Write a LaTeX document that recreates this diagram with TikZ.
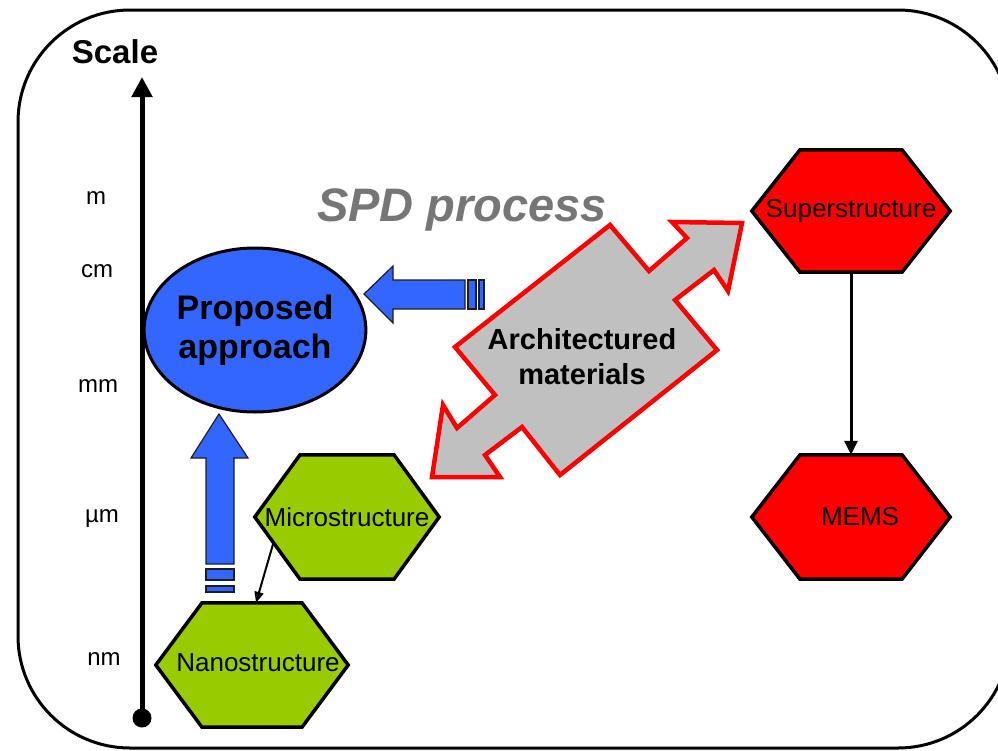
\documentclass[tikz,border=0pt]{standalone}
\usepackage{fontspec}
\setmainfont{Liberation Sans}
\usetikzlibrary{shapes.geometric,arrows.meta,backgrounds,calc}
\definecolor{bluefill}{RGB}{51,102,255}
\definecolor{greenfill}{RGB}{153,204,0}
\definecolor{grayfill}{RGB}{192,192,192}
\definecolor{spdgray}{RGB}{118,118,118}
\definecolor{redfill}{RGB}{255,0,0}
\definecolor{edgedark}{RGB}{30,30,30}
\newcommand\hexdraw[3]{\draw[#3] (#1.west) -- ([xshift=-#2pt]#1.north) -- ([xshift=#2pt]#1.north) -- (#1.east) -- ([xshift=#2pt]#1.south) -- ([xshift=-#2pt]#1.south) -- cycle;}
\tikzset{
  hexnode/.style={inner sep=0pt, font=\fontsize{26}{31}\selectfont},
  hexred/.style={fill=redfill, draw=black, line width=3.5pt},
  hexgreen/.style={fill=greenfill, draw=black, line width=3.5pt},
  lab/.style={inner sep=0pt, font=\fontsize{24}{28}\selectfont},
  bluearrow/.style={fill=bluefill, draw=edgedark, line width=1.2pt, line join=miter},
  conn/.style={draw=black, line width=3pt, -{Triangle[length=14pt,width=13pt]}},
  thinconn/.style={draw=black, line width=2pt, -{Triangle[length=11pt,width=9pt]}},
}
\begin{document}
\begin{tikzpicture}[x=1pt,y=-1pt]
\useasboundingbox (0,0) rectangle (998,750);
% frame
\draw[line width=3pt, rounded corners=112pt] (18,10) rectangle (1010,748);

% scale axis
\node[inner sep=0pt, font=\bfseries\fontsize{33}{39}\selectfont] (scale) at (115,52) {Scale};
\coordinate (axbot) at (142,718);
\coordinate (axtop) at (142,77);
\draw[line width=5pt, -{Triangle[length=20pt,width=20pt]}] (axbot) -- (axtop);
\fill (axbot) circle (9.5pt);
\node[lab] (lm) at (96,198) {m};
\node[lab] (lcm) at (97,271) {cm};
\node[lab] (lmm) at (98,386) {mm};
\node[lab] (lum) at (102,519) {µm};
\node[lab] (lnm) at (104,659) {nm};

% SPD process
\node[inner sep=0pt, text=spdgray, font=\bfseries\itshape\fontsize{47}{56}\selectfont] (spd) at (462,210) {SPD process};

% blue up arrow
\draw[bluearrow] (219,414) -- (248,458) -- (234,458) -- (234,564) -- (206,564) -- (206,458) -- (191,458) -- cycle;
\draw[bluearrow] (206,569) rectangle (234,580);
\draw[bluearrow] (206,586) rectangle (234,592);

% blue left arrow
\draw[bluearrow] (364,294) -- (393,266) -- (393,280) -- (465,280) -- (465,309) -- (393,309) -- (393,323) -- cycle;
\draw[bluearrow] (468,280) rectangle (476,309);
\draw[bluearrow] (479,280) rectangle (484,309);

% gray double arrow
\draw[fill=grayfill, draw=redfill, line width=4.5pt, line join=miter]
  (742,223) -- (728,291) -- (714,270) -- (675,300) -- (717,350) -- (560,475)
  -- (522,427) -- (485,455) -- (500,477) -- (432,477) -- (443,405) -- (457,428)
  -- (495,395) -- (455,347) -- (610,225) -- (649,271) -- (687,238) -- (672,222) -- cycle;
\node[inner sep=0pt, align=center, font=\bfseries\fontsize{29}{35}\selectfont] (arch) at (582,357) {Architectured\\materials};

% proposed approach
\node[ellipse, draw=black, line width=3pt, fill=bluefill, minimum width=212pt, minimum height=164pt, inner sep=0pt, align=center, font=\bfseries\fontsize{34}{42}\selectfont] (prop) at (255,330) {\raisebox{-3pt}{Proposed}\\approach};

% hexagons
\node[hexnode, minimum width=198pt, minimum height=122pt] (sup) at (851,211) {\raisebox{-2pt}{Superstructure}};
\node[hexnode, minimum width=198pt, minimum height=124pt] (mems) at (851,517) {\hspace{18pt}\raisebox{-2pt}{MEMS}};
\node[hexnode, minimum width=184pt, minimum height=124pt] (micro) at (347,517) {\raisebox{-1pt}{Microstructure}};
\node[hexnode, minimum width=192pt, minimum height=124pt] (nano) at (252,665) {\hspace{12pt}\raisebox{4pt}{Nanostructure}};
\begin{scope}[on background layer]
\hexdraw{sup}{51}{hexred}
\hexdraw{mems}{51}{hexred}
\hexdraw{micro}{47}{hexgreen}
\hexdraw{nano}{50}{hexgreen}
\end{scope}

% connectors
\draw[conn] (sup.south) -- (mems.north);
\draw[thinconn] ($(micro.west)!0.4!([xshift=-45pt]micro.south)$) -- ([xshift=4pt]nano.north);
\end{tikzpicture}
\end{document}
